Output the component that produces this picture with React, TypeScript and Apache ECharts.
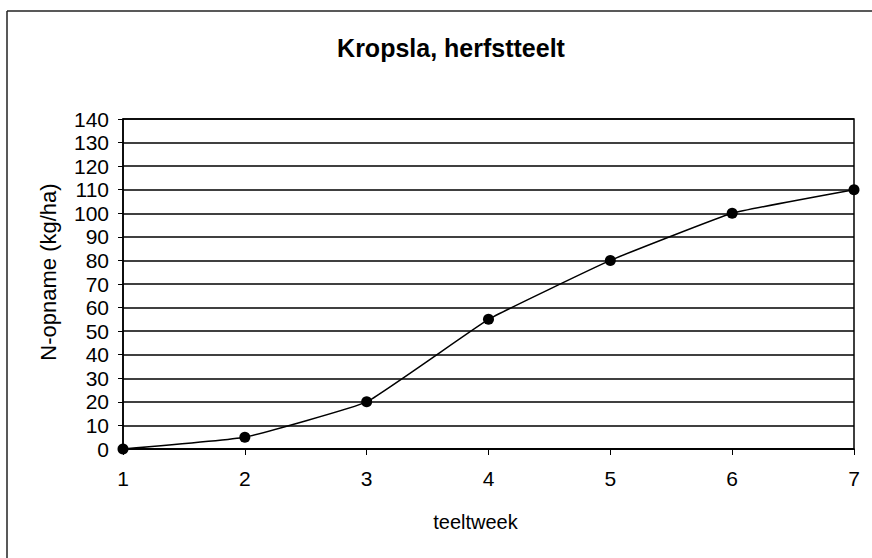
import React, { useEffect, useRef } from "react";
import * as echarts from "echarts";

const weeks = ["1", "2", "3", "4", "5", "6", "7"];
const nUptake = [0, 5, 20, 55, 80, 100, 110];
const titleText = "Kropsla, herfstteelt";
const xName = "teeltweek";
const yName = "N-opname (kg/ha)";

export default function App() {
  const ref = useRef<HTMLDivElement>(null);
  useEffect(() => {
    const chart = echarts.init(ref.current!, null, { renderer: "svg" });
    const font = "Arial, 'Liberation Sans', sans-serif";
    chart.setOption({
      animation: false,
      backgroundColor: "#fff",
      title: {
        text: titleText,
        left: 446,
        top: 30,
        textAlign: "center",
        textStyle: { fontFamily: font, fontSize: 25, fontWeight: "bold", color: "#000" },
      },
      graphic: [
        { type: "line", shape: { x1: 7, y1: 11, x2: 7, y2: 560 }, style: { stroke: "#222", lineWidth: 1.5 } },
        { type: "line", shape: { x1: 7, y1: 11, x2: 874, y2: 11 }, style: { stroke: "#222", lineWidth: 1.5 } },
      ],
      grid: {
        left: 123,
        top: 119,
        right: 18,
        bottom: 109,
        show: true,
        borderColor: "#000",
        borderWidth: 1.5,
        containLabel: false,
      },
      xAxis: {
        type: "category",
        data: weeks,
        boundaryGap: false,
        name: xName,
        nameLocation: "middle",
        nameGap: 63,
        nameTextStyle: { fontFamily: font, fontSize: 20, color: "#000", padding: [0, 26, 0, 0] },
        axisLine: { lineStyle: { color: "#000", width: 1.5 } },
        axisTick: { show: true, length: 6, inside: false, lineStyle: { color: "#000", width: 1 } },
        axisLabel: { fontFamily: font, fontSize: 21, color: "#000", margin: 19 },
        splitLine: { show: false },
      },
      yAxis: {
        type: "value",
        min: 0,
        max: 140,
        interval: 10,
        name: yName,
        nameLocation: "middle",
        nameGap: 64,
        nameTextStyle: { fontFamily: font, fontSize: 22, color: "#000", padding: [0, 0, 0, 24] },
        axisLine: { show: true, lineStyle: { color: "#000", width: 1.5 } },
        axisTick: { show: true, length: 5, lineStyle: { color: "#000", width: 1 } },
        axisLabel: { fontFamily: font, fontSize: 21, color: "#000", margin: 14 },
        splitLine: { show: true, lineStyle: { color: "#000", width: 1.5 } },
      },
      series: [
        {
          type: "line",
          data: nUptake,
          smooth: 0.1,
          symbol: "circle",
          symbolSize: 11,
          itemStyle: { color: "#000" },
          lineStyle: { color: "#000", width: 1.5 },
        },
      ],
    });
    return () => chart.dispose();
  }, []);
  return (
    <div
      ref={ref}
      style={{ position: "fixed", left: 0, top: 0, width: 872, height: 558 }}
    />
  );
}
